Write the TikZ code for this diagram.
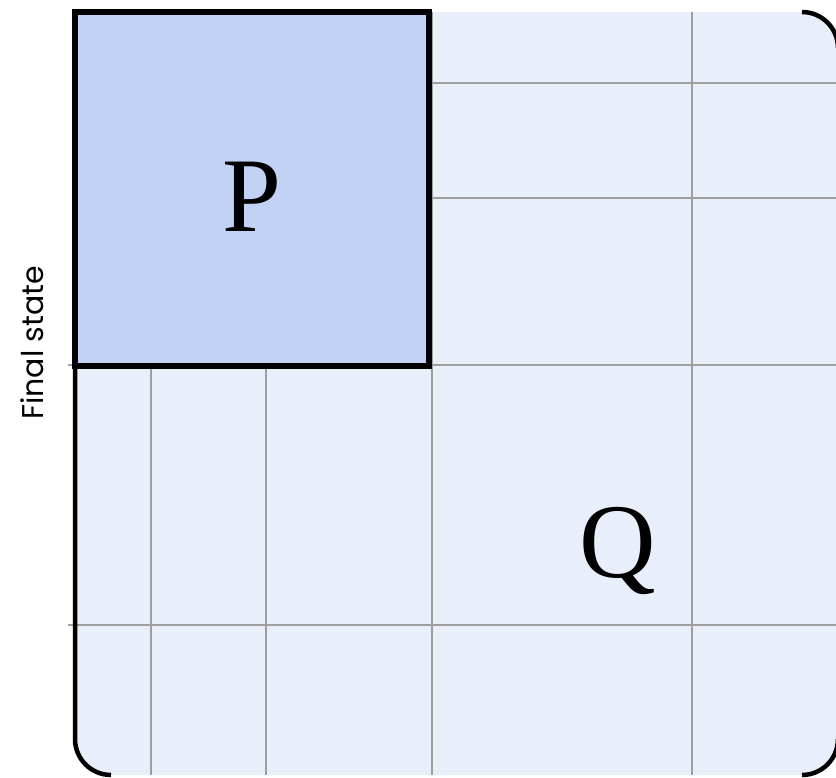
\documentclass[tikz,border=0pt]{standalone}
\usepackage{fontspec}
\setmainfont{Liberation Serif}
\newfontfamily\axisfont{Poppins}
\usepackage{xcolor}
\usetikzlibrary{calc}

\definecolor{sheet}{RGB}{233,238,251}
\definecolor{pfill}{RGB}{194,210,244}
\definecolor{rulegray}{RGB}{158,158,158}

\tikzset{
  gridline/.style={draw=rulegray, line width=1.6pt},
  rim/.style={draw=black, line width=4.5pt},
  bigletter/.style={font=\fontsize{106}{106}\selectfont},
}

\begin{document}
\begin{tikzpicture}[x=1pt, y=-1pt]
\useasboundingbox (0,0) rectangle (836,778);
% Sheet with rounded corners
\fill[sheet, rounded corners=36pt] (75,12) rectangle (838,775);

% Grid lines
\foreach \gy in {83,198} \draw[gridline] (432,\gy) -- (838,\gy);
\foreach \gy in {365,625} \draw[gridline] (68,\gy) -- (838,\gy);
\foreach \gx in {151,266} \draw[gridline] (\gx,365) -- (\gx,775);
\foreach \gx in {432,692} \draw[gridline] (\gx,12) -- (\gx,775);

% Rim: left side and three rounded corners
\draw[rim] (75,366) -- (75,739) arc[start angle=180, end angle=270, radius=36pt];
\draw[rim] (802,12) arc[start angle=90, end angle=0, radius=36pt];
\draw[rim] (838,739) arc[start angle=0, end angle=-90, radius=36pt];

% Block P
\draw[fill=pfill, line width=5.5pt] (75,12) rectangle (429,366);
\node[bigletter] (P) at (252,197) {P};

% Block Q
\node[bigletter] (Q) at (618,551) {Q};

% Side label
\node[font=\axisfont\fontsize{30}{30}\selectfont, rotate=90] (final) at (32,343) {Final state};
\end{tikzpicture}
\end{document}
